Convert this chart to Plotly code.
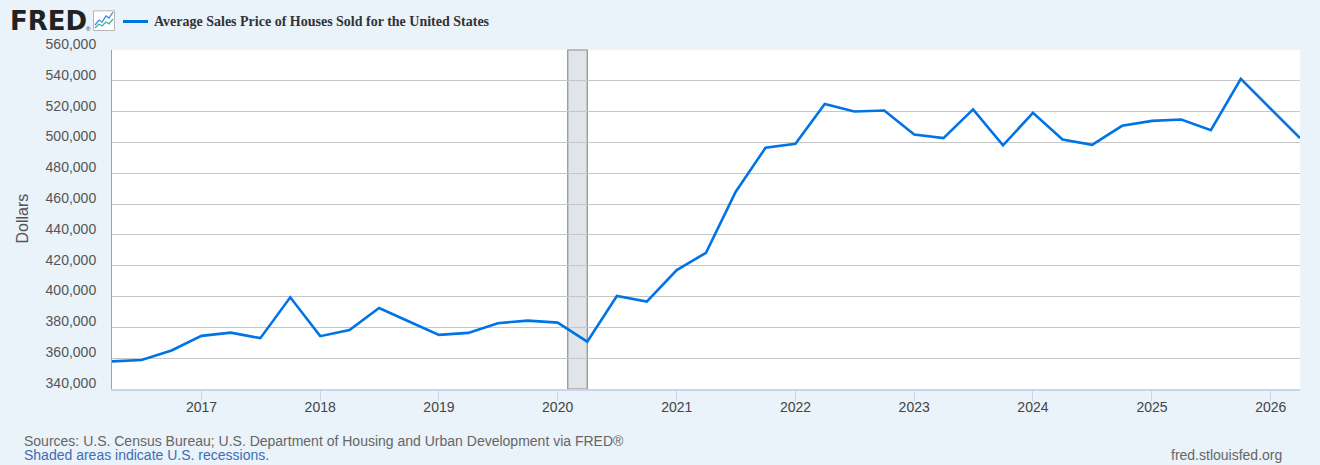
import plotly.graph_objects as go

# ---------------- data ----------------
dates = [
    "2016-04-01", "2016-07-01", "2016-10-01",
    "2017-01-01", "2017-04-01", "2017-07-01", "2017-10-01",
    "2018-01-01", "2018-04-01", "2018-07-01", "2018-10-01",
    "2019-01-01", "2019-04-01", "2019-07-01", "2019-10-01",
    "2020-01-01", "2020-04-01", "2020-07-01", "2020-10-01",
    "2021-01-01", "2021-04-01", "2021-07-01", "2021-10-01",
    "2022-01-01", "2022-04-01", "2022-07-01", "2022-10-01",
    "2023-01-01", "2023-04-01", "2023-07-01", "2023-10-01",
    "2024-01-01", "2024-04-01", "2024-07-01", "2024-10-01",
    "2025-01-01", "2025-04-01", "2025-07-01", "2025-10-01",
    "2026-01-01", "2026-04-01",
]
avg_price = [
    357900, 358800, 365000,
    374500, 376600, 373000, 399500,
    374300, 378200, 392600, 383800,
    375100, 376400, 382700, 384400,
    383100, 370700, 400400, 396700,
    417200, 428400, 467900, 496600,
    499200, 525000, 520100, 520700,
    505200, 502800, 521500, 498100,
    519200, 501900, 498500, 510800,
    514000, 514900, 508000, 541300,
    522000, 502800,
]
recession_start = ["2020-02-01"]
recession_end = ["2020-04-01"]
y_ticks = [340000, 360000, 380000, 400000, 420000, 440000, 460000,
           480000, 500000, 520000, 540000, 560000]
x_tick_vals = ["2017-01-01", "2018-01-01", "2019-01-01", "2020-01-01",
               "2021-01-01", "2022-01-01", "2023-01-01", "2024-01-01",
               "2025-01-01", "2026-01-01"]
x_tick_text = ["2017", "2018", "2019", "2020", "2021", "2022", "2023",
               "2024", "2025", "2026"]
series_name = "Average Sales Price of Houses Sold for the United States"

# ---------------- layout geometry ----------------
W, H = 1320, 465
ML, MR, MT, MB = 112, 20, 50, 76
PW, PH = W - ML - MR, H - MT - MB

def px(x):
    return (x - ML) / PW

def py(y):
    return (H - MB - y) / PH

LINE = "#0073E6"
BG = "#EAF2FA"
FONT = "Liberation Sans, Arial, sans-serif"

fig = go.Figure()
fig.add_trace(go.Scatter(
    x=dates, y=avg_price, mode="lines", name=series_name,
    line=dict(color=LINE, width=2.6), showlegend=False,
))

shapes = []
for s, e in zip(recession_start, recession_end):
    shapes.append(dict(type="rect", xref="x", yref="paper", x0=s, x1=e, y0=0, y1=1,
                       fillcolor="#E1E5EA", line=dict(color="#8E8E8E", width=1.2),
                       layer="below"))

# header: icon box + zigzags + legend line
shapes.append(dict(type="rect", xref="paper", yref="paper",
                   x0=px(93.5), x1=px(114.5), y0=py(30.5), y1=py(10.8),
                   fillcolor="#FFFFFF", line=dict(color="#B5B5B5", width=1)))
blue_pts = [(95, 25), (99, 20), (102, 22), (106, 16), (109, 18), (113, 12)]
green_pts = [(95, 28), (99, 24), (102, 26), (106, 22), (109, 24), (113, 19)]
for pts, col in ((blue_pts, "#3B8EE0"), (green_pts, "#3DB39E")):
    path = "M " + " L ".join(f"{px(a)},{py(b)}" for a, b in pts)
    shapes.append(dict(type="path", xref="paper", yref="paper", path=path,
                       line=dict(color=col, width=1.3)))
shapes.append(dict(type="line", xref="paper", yref="paper",
                   x0=px(123), x1=px(148), y0=py(21.5), y1=py(21.5),
                   line=dict(color=LINE, width=3)))

annotations = [
    dict(text="<b>FRED</b>", x=px(8), y=py(21), xref="paper", yref="paper",
         xanchor="left", yanchor="middle", showarrow=False,
         font=dict(family="DejaVu Sans, sans-serif", size=26, color="#222222")),
    dict(text="®", x=px(84), y=py(29), xref="paper", yref="paper",
         xanchor="left", yanchor="middle", showarrow=False,
         font=dict(family=FONT, size=6, color="#222222")),
    dict(text="<b>" + series_name + "</b>", x=px(152), y=py(21), xref="paper", yref="paper",
         xanchor="left", yanchor="middle", showarrow=False,
         font=dict(family="Liberation Serif, Times New Roman, serif", size=14, color="#333333")),
    dict(text="Dollars", x=px(21.5), y=py(219), xref="paper", yref="paper",
         xanchor="center", yanchor="middle", textangle=-90, showarrow=False,
         font=dict(family=FONT, size=16, color="#555555")),
    dict(text="Sources: U.S. Census Bureau; U.S. Department of Housing and Urban Development via FRED®",
         x=px(22), y=py(441), xref="paper", yref="paper", xanchor="left", yanchor="middle",
         showarrow=False, font=dict(family=FONT, size=14, color="#666666")),
    dict(text="Shaded areas indicate U.S. recessions.",
         x=px(22), y=py(455), xref="paper", yref="paper", xanchor="left", yanchor="middle",
         showarrow=False, font=dict(family=FONT, size=14, color="#3D6DB5")),
    dict(text="fred.stlouisfed.org",
         x=px(1284), y=py(455), xref="paper", yref="paper", xanchor="right", yanchor="middle",
         showarrow=False, font=dict(family=FONT, size=14, color="#666666")),
]

fig.update_layout(
    width=W, height=H,
    margin=dict(l=ML, r=MR, t=MT, b=MB, pad=0),
    paper_bgcolor=BG, plot_bgcolor="#FFFFFF",
    shapes=shapes, annotations=annotations,
    showlegend=False,
    xaxis=dict(
        type="date", range=["2016-04-01", "2026-04-01"],
        tickvals=x_tick_vals, ticktext=x_tick_text,
        ticks="outside", ticklen=10, tickcolor="#C8D6E6", tickwidth=1,
        ticklabelstandoff=-6,
        showgrid=False, zeroline=False,
        showline=True, linecolor="#C8D6E6", linewidth=1.5,
        tickfont=dict(family=FONT, size=14, color="#444444"),
    ),
    yaxis=dict(
        range=[340000, 560000], tickvals=y_ticks, tickformat=",d",
        showgrid=True, gridcolor="#C6C6C6", gridwidth=1.2,
        zeroline=False, showline=True, linecolor="#A0A0A0", linewidth=1,
        ticks="", ticklabelstandoff=12, ticklabelshift=-6,
        tickfont=dict(family=FONT, size=14, color="#555555"),
    ),
)

fig.write_html(
    "out.html",
    config={"displayModeBar": False},
    post_script="document.body.style.margin='0';document.body.style.background='" + BG + "';",
)
